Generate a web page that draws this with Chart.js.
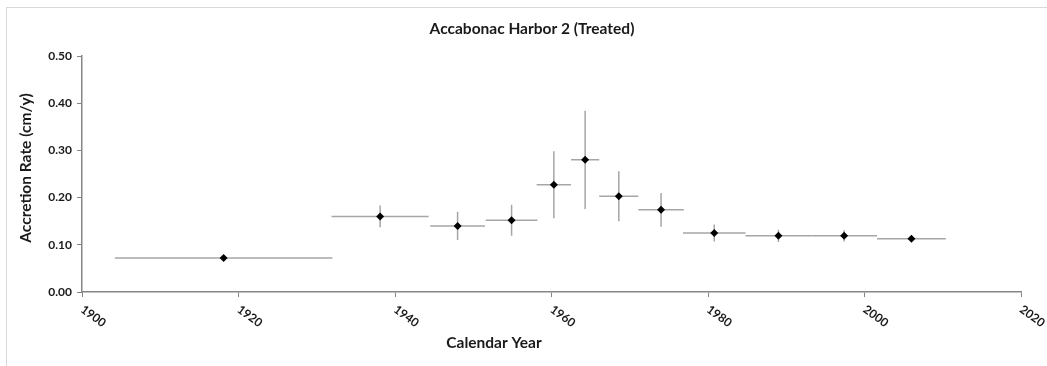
<!DOCTYPE html>
<html>
<head>
<meta charset="utf-8">
<script src="https://cdn.jsdelivr.net/npm/chart.js@4/dist/chart.umd.min.js"></script>
<style>
  body { margin: 0; background: #fff; }
  #wrap { position: relative; width: 1047px; height: 366px; }
  #frame { position: absolute; left: 6px; top: 7px; right: 0; bottom: 0; border-left: 1px solid #d9d9d9; border-top: 1px solid #d9d9d9; }
  canvas { position: absolute; left: 0; top: 0; }
</style>
</head>
<body>
<div id="wrap">
  <div id="frame"></div>
  <canvas id="chart" width="1047" height="366"></canvas>
</div>
<script>
// Calendar year (mid point of each dated interval) and accretion rate
const years = [1918.1, 1938.1, 1948.0, 1954.9, 1960.3, 1964.3, 1968.6, 1974.0, 1980.8, 1989.0, 1997.4, 2006.0];
const rates = [0.072, 0.160, 0.140, 0.152, 0.227, 0.280, 0.203, 0.174, 0.125, 0.119, 0.119, 0.113];
// half widths of the error bars
const yearErr = [13.9, 6.2, 3.5, 3.3, 2.2, 1.8, 2.5, 2.9, 4.0, 4.2, 4.2, 4.4];
const rateErr = [0.0, 0.023, 0.030, 0.033, 0.071, 0.104, 0.053, 0.036, 0.018, 0.013, 0.012, 0.005];
const xTicks = [1900, 1920, 1940, 1960, 1980, 2000, 2020];

const FONT = "Lato, 'Open Sans', sans-serif";
const axisGray = "#868686";
const textColor = "#1a1a1a";

const points = years.map((yr, i) => ({ x: yr, y: rates[i] }));

// Draw the gray error bars under the markers
const errorBars = {
  id: "errorBars",
  beforeDatasetsDraw(chart) {
    const { ctx, scales: { x, y } } = chart;
    ctx.save();
    ctx.strokeStyle = "#a6a6a6";
    ctx.lineWidth = 1.5;
    for (let i = 0; i < years.length; i++) {
      const px = x.getPixelForValue(years[i]);
      const py = y.getPixelForValue(rates[i]);
      ctx.beginPath();
      ctx.moveTo(x.getPixelForValue(years[i] - yearErr[i]), py);
      ctx.lineTo(x.getPixelForValue(years[i] + yearErr[i]), py);
      if (rateErr[i] > 0) {
        ctx.moveTo(px, y.getPixelForValue(rates[i] - rateErr[i]));
        ctx.lineTo(px, y.getPixelForValue(rates[i] + rateErr[i]));
      }
      ctx.stroke();
    }
    ctx.restore();
  }
};

// Title, axis titles and the slanted year labels
const textLayer = {
  id: "textLayer",
  afterDraw(chart) {
    const { ctx, scales: { x, y } } = chart;
    ctx.save();
    ctx.fillStyle = textColor;

    ctx.font = "bold 15.5px " + FONT;
    ctx.textAlign = "center";
    ctx.textBaseline = "middle";
    ctx.fillText("Accabonac Harbor 2 (Treated)", 532, 29);

    ctx.font = "bold 15.5px " + FONT;
    ctx.fillText("Calendar Year", 494, 343);

    ctx.save();
    ctx.translate(26, 168);
    ctx.rotate(-Math.PI / 2);
    ctx.fillText("Accretion Rate (cm/y)", 0, 0);
    ctx.restore();

    ctx.font = "bold 12px " + FONT;
    ctx.textAlign = "left";
    xTicks.forEach((t) => {
      const px = x.getPixelForValue(t);
      ctx.save();
      ctx.translate(px, y.bottom + 16);
      ctx.rotate(36 * Math.PI / 180);
      ctx.fillText(String(t), 0, 0);
      ctx.restore();
    });
    ctx.restore();
  }
};

const chart = new Chart(document.getElementById("chart"), {
  type: "scatter",
  data: {
    datasets: [{
      data: points,
      pointStyle: "rectRot",
      pointRadius: 4,
      pointBackgroundColor: "#000",
      pointBorderColor: "#000",
      pointBorderWidth: 0
    }]
  },
  plugins: [errorBars, textLayer],
  options: {
    responsive: false,
    animation: false,
    layout: { padding: { left: 0, right: 26, top: 56, bottom: 0 } },
    plugins: {
      legend: { display: false },
      tooltip: { enabled: false }
    },
    scales: {
      x: {
        type: "linear",
        min: 1900,
        max: 2020,
        afterBuildTicks: (scale) => { scale.ticks = xTicks.map((v) => ({ value: v })); },
        afterFit: (scale) => { scale.height = 74; },
        ticks: { display: false },
        grid: { drawOnChartArea: false, color: axisGray, tickLength: 5 },
        border: { color: axisGray, width: 1.5 }
      },
      y: {
        min: 0,
        max: 0.5,
        afterFit: (scale) => { scale.width = 82; },
        ticks: {
          stepSize: 0.1,
          padding: 5,
          color: textColor,
          font: { family: FONT, size: 12, weight: "bold" },
          callback: (v) => v.toFixed(2)
        },
        grid: { drawOnChartArea: false, color: axisGray, tickLength: 5 },
        border: { color: axisGray, width: 1.5 }
      }
    }
  }
});
</script>
</body>
</html>
